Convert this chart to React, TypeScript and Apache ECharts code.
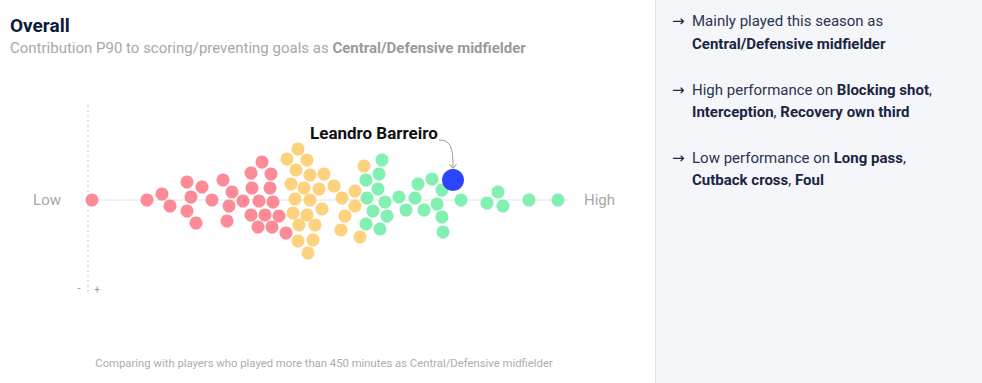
import React, { useEffect, useRef } from "react";
import * as echarts from "echarts";

// Beeswarm positions: [score, swarm offset]
const lowPlayers: [number, number][] = [
  [0, 0], [55, 0], [70, 6], [78, -6], [95, 18], [110, 13], [99, 3], [95, -11], [104, -23],
  [120, 0], [131, 20], [140, 8], [137, -6], [135, -21], [151, -1], [159, 27], [170, 38],
  [179, 26], [160, 12], [178, 12], [167, -1], [181, -2], [159, -15], [173, -15], [187, -16],
  [166, -27], [180, -27], [194, -33],
];
const midPlayers: [number, number][] = [
  [206, 51], [195, 41], [215, 40], [204, 30], [218, 25], [232, 26], [199, 16], [212, 12],
  [227, 11], [203, 1], [218, 0], [230, -9], [201, -13], [215, -15], [207, -25], [223, -25],
  [206, -41], [221, -40], [216, -53], [242, 14], [250, 2], [253, -16], [249, -30], [272, 34],
  [263, 9], [263, -6], [268, -37],
];
const highPlayers: [number, number][] = [
  [290, 40], [287, 26], [274, 20], [286, 11], [275, 2], [293, -2], [281, -11], [295, -16],
  [274, -24], [288, -29], [307, 3], [314, -10], [323, 2], [326, 16], [332, -10], [340, 21],
  [345, -4], [350, 10], [350, -17], [351, -32], [369, 0], [406, 8], [395, -3], [411, -6],
  [437, 0], [466, 0],
];
const focusPlayer: [number, number][] = [[361, 20]];
const focusName = "Leandro Barreiro";
const axisLabels = ["Low", "High"];

const FONT = "Roboto, 'Noto Sans', sans-serif";
const NAVY = "#1b2542";

export default function App() {
  const ref = useRef<HTMLDivElement>(null);
  useEffect(() => {
    if (!ref.current) return;
    const chart = echarts.init(ref.current, undefined, { renderer: "svg" });
    const panelText = (y: number, text: string) => ({
      type: "text",
      x: 692,
      y,
      style: {
        text,
        textVerticalAlign: "middle",
        rich: {
          n: { fontFamily: FONT, fontSize: 15, fill: "#2a334f", color: "#2a334f" },
          b: { fontFamily: FONT, fontSize: 15, fontWeight: "bold", fill: NAVY, color: NAVY },
        },
      },
    });
    const arrow = (y: number) => ({
      type: "text",
      x: 672,
      y,
      style: { text: "→", font: `15px 'DejaVu Sans', sans-serif`, fill: NAVY, textVerticalAlign: "middle" },
    });
    chart.setOption({
      animation: false,
      grid: { left: 92, width: 466, top: 100, height: 200 },
      xAxis: { type: "value", min: 0, max: 466, show: false },
      yAxis: { type: "value", min: -100, max: 100, show: false },
      graphic: [
        { type: "rect", shape: { x: 655, y: 0, width: 327, height: 383 }, style: { fill: "#f4f6fa" }, z: -10 },
        { type: "line", shape: { x1: 655.5, y1: 0, x2: 655.5, y2: 383 }, style: { stroke: "#dfe3ee", lineWidth: 1 }, z: -9 },
        { type: "line", shape: { x1: 88, y1: 105, x2: 88, y2: 294 }, style: { stroke: "#dcdcdc", lineWidth: 1.5, lineDash: [2, 3] }, z: -5 },
        { type: "line", shape: { x1: 88, y1: 200, x2: 568, y2: 200 }, style: { stroke: "#e4e4e4", lineWidth: 1 }, z: -5 },
        { type: "text", x: 10, y: 25, style: { text: "Overall", font: `bold 19px ${FONT}`, fill: "#0e1a3d", textVerticalAlign: "middle" } },
        {
          type: "text", x: 10, y: 48,
          style: {
            text: "{n|Contribution P90 to scoring/preventing goals as }{b|Central/Defensive midfielder}",
            textVerticalAlign: "middle",
            rich: {
              n: { fontFamily: FONT, fontSize: 15, fill: "#a8a8a8", color: "#a8a8a8" },
              b: { fontFamily: FONT, fontSize: 15, fontWeight: "bold", fill: "#9a9a9a", color: "#9a9a9a" },
            },
          },
        },
        { type: "text", x: 61, y: 200, style: { text: axisLabels[0], font: `15px ${FONT}`, fill: "#a8a8a8", textAlign: "right", textVerticalAlign: "middle" } },
        { type: "text", x: 584, y: 200, style: { text: axisLabels[1], font: `15px ${FONT}`, fill: "#a8a8a8", textVerticalAlign: "middle" } },
        { type: "text", x: 310, y: 133, style: { text: focusName, font: `bold 17px ${FONT}`, fill: "#111", textVerticalAlign: "middle" } },
        { type: "bezierCurve", shape: { x1: 439, y1: 140, x2: 453, y2: 168, cpx1: 452, cpy1: 140, cpx2: 453, cpy2: 150 }, style: { stroke: "#9a9a9a", lineWidth: 1, fill: "none" } },
        { type: "polyline", shape: { points: [[449.5, 164], [453, 168.5], [456.5, 164]] }, style: { stroke: "#9a9a9a", lineWidth: 1, fill: "none" } },
        { type: "text", x: 79, y: 288, style: { text: "-", font: `11px ${FONT}`, fill: "#999", textAlign: "center", textVerticalAlign: "middle" } },
        { type: "text", x: 97, y: 289, style: { text: "+", font: `10px ${FONT}`, fill: "#999", textAlign: "center", textVerticalAlign: "middle" } },
        { type: "text", x: 324, y: 363, style: { text: "Comparing with players who played more than 450 minutes as Central/Defensive midfielder", font: `11.3px ${FONT}`, fill: "#adadad", textAlign: "center", textVerticalAlign: "middle" } },
        arrow(21),
        panelText(21, "{n|Mainly played this season as}"),
        panelText(44, "{b|Central/Defensive midfielder}"),
        arrow(90),
        panelText(90, "{n|High performance on }{b|Blocking shot}{n|,}"),
        panelText(112, "{b|Interception}{n|, }{b|Recovery own third}"),
        arrow(158),
        panelText(158, "{n|Low performance on }{b|Long pass}{n|,}"),
        panelText(180, "{b|Cutback cross}{n|, }{b|Foul}"),
      ],
      series: [
        { type: "scatter", data: lowPlayers, symbolSize: 13, itemStyle: { color: "#fd8b97", opacity: 1 }, silent: true },
        { type: "scatter", data: midPlayers, symbolSize: 13, itemStyle: { color: "#fed17c", opacity: 1 }, silent: true },
        { type: "scatter", data: highPlayers, symbolSize: 13, itemStyle: { color: "#82efb3", opacity: 1 }, silent: true },
        { type: "scatter", data: focusPlayer, symbolSize: 22, itemStyle: { color: "#2c45fc", opacity: 1 }, silent: true, z: 5 },
      ],
    });
    return () => chart.dispose();
  }, []);
  return <div ref={ref} style={{ position: "fixed", left: 0, top: 0, width: 982, height: 383, background: "#fff" }} />;
}
